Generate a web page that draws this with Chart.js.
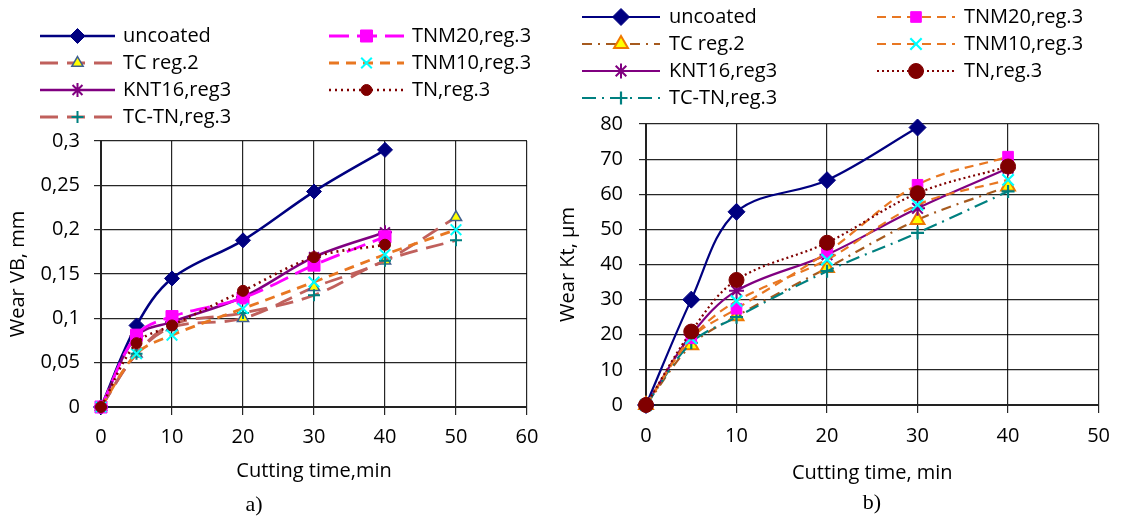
<!DOCTYPE html>
<html>
<head>
<meta charset="utf-8">
<title>Wear vs cutting time</title>
<script src="https://cdn.jsdelivr.net/npm/chart.js@4.4.1/dist/chart.umd.min.js"></script>
<style>
  html, body { margin: 0; padding: 0; background: #fff; }
  #wrap { position: relative; width: 1121px; height: 516px; overflow: hidden; background: #fff; }
  canvas { position: absolute; top: 0; }
  #chart-vb { left: 0; }
  #chart-kt { left: 556px; }
</style>
</head>
<body>
<div id="wrap">
  <canvas id="chart-vb" width="560" height="516"></canvas>
  <canvas id="chart-kt" width="565" height="516"></canvas>
</div>
<script>
/* Two wear curves: flank wear VB (a) and crater depth Kt (b) vs cutting time.
 * Values; legend is drawn by a small plugin so it can
 * sit in two Excel-style columns above each plot. */
const SERIES_NAMES = ["uncoated", "TC reg.2", "KNT16,reg3", "TC-TN,reg.3", "TNM20,reg.3", "TNM10,reg.3", "TN,reg.3"];

// a) wear VB, mm
const TIME_VB = [0, 5, 10, 20, 30, 40, 50];
const VB_UNCOATED = [0, 0.092, 0.145, 0.188, 0.243, 0.29];
const VB_TC = [0, 0.06, 0.09, 0.1, 0.135, 0.165, 0.214];
const VB_KNT16 = [0, 0.08, 0.096, 0.124, 0.169, 0.197];
const VB_TCTN = [0, 0.06, 0.093, 0.106, 0.126, 0.165, 0.188];
const VB_TNM20 = [0, 0.081, 0.102, 0.123, 0.16, 0.192];
const VB_TNM10 = [0, 0.06, 0.081, 0.111, 0.141, 0.172, 0.2];
const VB_TN = [0, 0.072, 0.092, 0.131, 0.169, 0.183];
const VB_TICKS = ["0", "0,05", "0,1", "0,15", "0,2", "0,25", "0,3"];
const VB_TIME_TICKS = ["0", "10", "20", "30", "40", "50", "60"];

// b) wear Kt, µm
const TIME_KT = [0, 5, 10, 20, 30, 40];
const KT_UNCOATED = [0, 30, 55, 64, 79];
const KT_TC = [0, 17, 25.3, 39, 52.7, 62.2];
const KT_KNT16 = [0, 20, 32.5, 42.8, 56, 67.4];
const KT_TCTN = [0, 17.7, 25, 38.1, 49, 60.8];
const KT_TNM20 = [0, 19, 27.4, 43.5, 62.7, 70.7];
const KT_TNM10 = [0, 19, 29.6, 41.4, 57, 64.1];
const KT_TN = [0, 20.9, 35.6, 46.2, 60.3, 67.9];
const KT_TICKS = ["0", "10", "20", "30", "40", "50", "60", "70", "80"];
const KT_TIME_TICKS = ["0", "10", "20", "30", "40", "50"];

const FONT = { family: "'Open Sans', sans-serif", size: 20 };
const GRID = "rgba(0,0,0,0.85)";

const pts = (xs, ys) => ys.map((y, i) => ({ x: xs[i], y }));

// one style per series, same order as SERIES_NAMES
const STYLE_VB = [
  { color: "#000080", width: 2.6, dash: [], point: "rectRot", r: 7.5, fill: "#000080", edge: "#000080", bw: 1 },
  { color: "#C0605C", width: 2.8, dash: [18, 9], point: "triangle", r: 6.5, fill: "#FFFF00", edge: "#3F5F8F", bw: 1.5 },
  { color: "#800080", width: 2.6, dash: [], point: "star", r: 7, fill: "#800080", edge: "#800080", bw: 2 },
  { color: "#C0605C", width: 2.8, dash: [18, 9], point: "cross", r: 6, fill: "#008080", edge: "#008080", bw: 2 },
  { color: "#FF00FF", width: 2.8, dash: [20, 8], point: "rect", r: 8.5, fill: "#FF00FF", edge: "#FF00FF", bw: 1 },
  { color: "#E87722", width: 2.8, dash: [10, 7], point: "crossRot", r: 7.5, fill: "#00FFFF", edge: "#00FFFF", bw: 2 },
  { color: "#800000", width: 2.6, dash: [2, 4], point: "circle", r: 5.5, fill: "#800000", edge: "#800000", bw: 1 },
];
const STYLE_KT = [
  { color: "#000080", width: 2.2, dash: [], point: "rectRot", r: 8.5, fill: "#000080", edge: "#000080", bw: 1 },
  { color: "#A65A1E", width: 2.2, dash: [10, 6, 2, 6], point: "triangle", r: 8, fill: "#FFFF00", edge: "#F07800", bw: 2 },
  { color: "#800080", width: 2.2, dash: [], point: "star", r: 7.5, fill: "#800080", edge: "#800080", bw: 2 },
  { color: "#008080", width: 2.2, dash: [14, 6, 2, 6], point: "cross", r: 6.5, fill: "#008080", edge: "#008080", bw: 2.2 },
  { color: "#E87722", width: 2.2, dash: [9, 6], point: "rect", r: 7.5, fill: "#FF00FF", edge: "#FF00FF", bw: 1 },
  { color: "#E87722", width: 2.2, dash: [9, 6], point: "crossRot", r: 8, fill: "#00FFFF", edge: "#00FFFF", bw: 2.2 },
  { color: "#800000", width: 2.2, dash: [2, 3], point: "circle", r: 7.5, fill: "#800000", edge: "#800000", bw: 1 },
];

function makeDatasets(series, styles) {
  const n = series.length;
  return series.map((data, i) => {
    const s = styles[i];
    return {
      label: SERIES_NAMES[i],
      data,
      borderColor: s.color,
      backgroundColor: s.fill,
      borderWidth: s.width,
      borderDash: s.dash,
      pointStyle: s.point,
      pointRadius: s.r,
      pointHoverRadius: s.r,
      pointBackgroundColor: s.fill,
      pointBorderColor: s.edge,
      pointBorderWidth: s.bw,
      tension: 0.35,
      fill: false,
      clip: false,
      order: n - i, // later series painted on top, like Excel
    };
  });
}

// Excel-like legend: two columns, line sample with the marker in its middle
const columnLegend = {
  id: "columnLegend",
  afterDraw(chart, args, opts) {
    const ctx = chart.ctx;
    ctx.save();
    chart.data.datasets.forEach((ds, i) => {
      const col = i < 4 ? 0 : 1;
      const row = i < 4 ? i : i - 4;
      const x0 = opts.colX[col];
      const x1 = x0 + opts.lineLen;
      const y = opts.rowY[row];
      ctx.strokeStyle = ds.borderColor;
      ctx.lineWidth = ds.borderWidth;
      ctx.setLineDash(ds.borderDash || []);
      ctx.beginPath();
      ctx.moveTo(x0, y);
      ctx.lineTo(x1, y);
      ctx.stroke();
      ctx.setLineDash([]);
      ctx.fillStyle = ds.pointBackgroundColor;
      ctx.strokeStyle = ds.pointBorderColor;
      ctx.lineWidth = ds.pointBorderWidth;
      Chart.helpers.drawPoint(ctx, {
        pointStyle: ds.pointStyle, radius: ds.pointRadius, rotation: 0, borderWidth: ds.pointBorderWidth,
      }, (x0 + x1) / 2, y);
      ctx.fillStyle = "#000";
      ctx.font = `${FONT.size}px ${FONT.family}`;
      ctx.textBaseline = "middle";
      ctx.textAlign = "left";
      ctx.fillText(ds.label, x1 + opts.gap, y);
    });
    ctx.restore();
  },
};

// "a)" / "b)" under each plot
const caption = {
  id: "caption",
  afterDraw(chart, args, opts) {
    const ctx = chart.ctx;
    ctx.save();
    ctx.fillStyle = "#000";
    ctx.font = "22px 'Liberation Serif', 'DejaVu Serif', serif";
    ctx.textAlign = "center";
    ctx.textBaseline = "middle";
    ctx.fillText(opts.text, opts.x, opts.y);
    ctx.restore();
  },
};

function axis(o) {
  return {
    type: "linear",
    min: o.min,
    max: o.max,
    ticks: {
      stepSize: o.step,
      autoSkip: false,
      color: "#000",
      font: FONT,
      padding: o.pad,
      callback: (v, i) => o.labels[i],
    },
    grid: { color: GRID, lineWidth: 1.2, tickLength: o.tick, drawTicks: true },
    border: { color: "#222", width: 2 },
    title: { display: true, text: o.title, color: "#000", font: FONT, padding: o.titlePad },
    afterFit: o.fit,
  };
}

function buildChart(el, datasets, o) {
  return new Chart(el, {
    type: "line",
    data: { datasets },
    options: {
      responsive: false,
      animation: false,
      events: [],
      layout: { padding: o.padding },
      scales: {
        x: axis({
          min: 0, max: o.xMax, step: 10, labels: o.xLabels, pad: o.xPad, tick: 8,
          title: o.xTitle, titlePad: { top: 0, bottom: o.xTitlePad },
          fit: (s) => { s.height = o.xHeight; },
        }),
        y: axis({
          min: 0, max: o.yMax, step: o.yStep, labels: o.yLabels, pad: o.yPad, tick: 7,
          title: o.yTitle, titlePad: { top: o.yTitlePad, bottom: 0 },
          fit: (s) => { s.width = o.yWidth; },
        }),
      },
      plugins: {
        legend: { display: false },
        tooltip: { enabled: false },
        columnLegend: o.legend,
        caption: o.caption,
      },
    },
    plugins: [columnLegend, caption],
  });
}

buildChart(document.getElementById("chart-vb"), makeDatasets([
  pts(TIME_VB, VB_UNCOATED), pts(TIME_VB, VB_TC), pts(TIME_VB, VB_KNT16), pts(TIME_VB, VB_TCTN),
  pts(TIME_VB, VB_TNM20), pts(TIME_VB, VB_TNM10), pts(TIME_VB, VB_TN),
], STYLE_VB), {
  padding: { left: 0, top: 141, right: 33, bottom: 30 },
  xMax: 60, xLabels: VB_TIME_TICKS, xPad: 10, xTitle: "Cutting time,min", xTitlePad: 3, xHeight: 79,
  yMax: 0.3, yStep: 0.05, yLabels: VB_TICKS, yPad: 14, yTitle: "Wear VB, mm", yTitlePad: 6, yWidth: 101,
  legend: { colX: [40, 329], lineLen: 75, gap: 8, rowY: [36, 63, 90, 117] },
  caption: { text: "a)", x: 254, y: 505 },
});

buildChart(document.getElementById("chart-kt"), makeDatasets([
  pts(TIME_KT, KT_UNCOATED), pts(TIME_KT, KT_TC), pts(TIME_KT, KT_KNT16), pts(TIME_KT, KT_TCTN),
  pts(TIME_KT, KT_TNM20), pts(TIME_KT, KT_TNM10), pts(TIME_KT, KT_TN),
], STYLE_KT), {
  padding: { left: 0, top: 124, right: 17, bottom: 30 },
  xMax: 50, xLabels: KT_TIME_TICKS, xPad: 11, xTitle: "Cutting time, min", xTitlePad: 1, xHeight: 81,
  yMax: 80, yStep: 10, yLabels: KT_TICKS, yPad: 16, yTitle: "Wear Kt, µm", yTitlePad: 0, yWidth: 90,
  legend: { colX: [26, 321], lineLen: 78, gap: 9, rowY: [17, 44, 71, 98] },
  caption: { text: "b)", x: 316, y: 503 },
});
</script>
</body>
</html>
